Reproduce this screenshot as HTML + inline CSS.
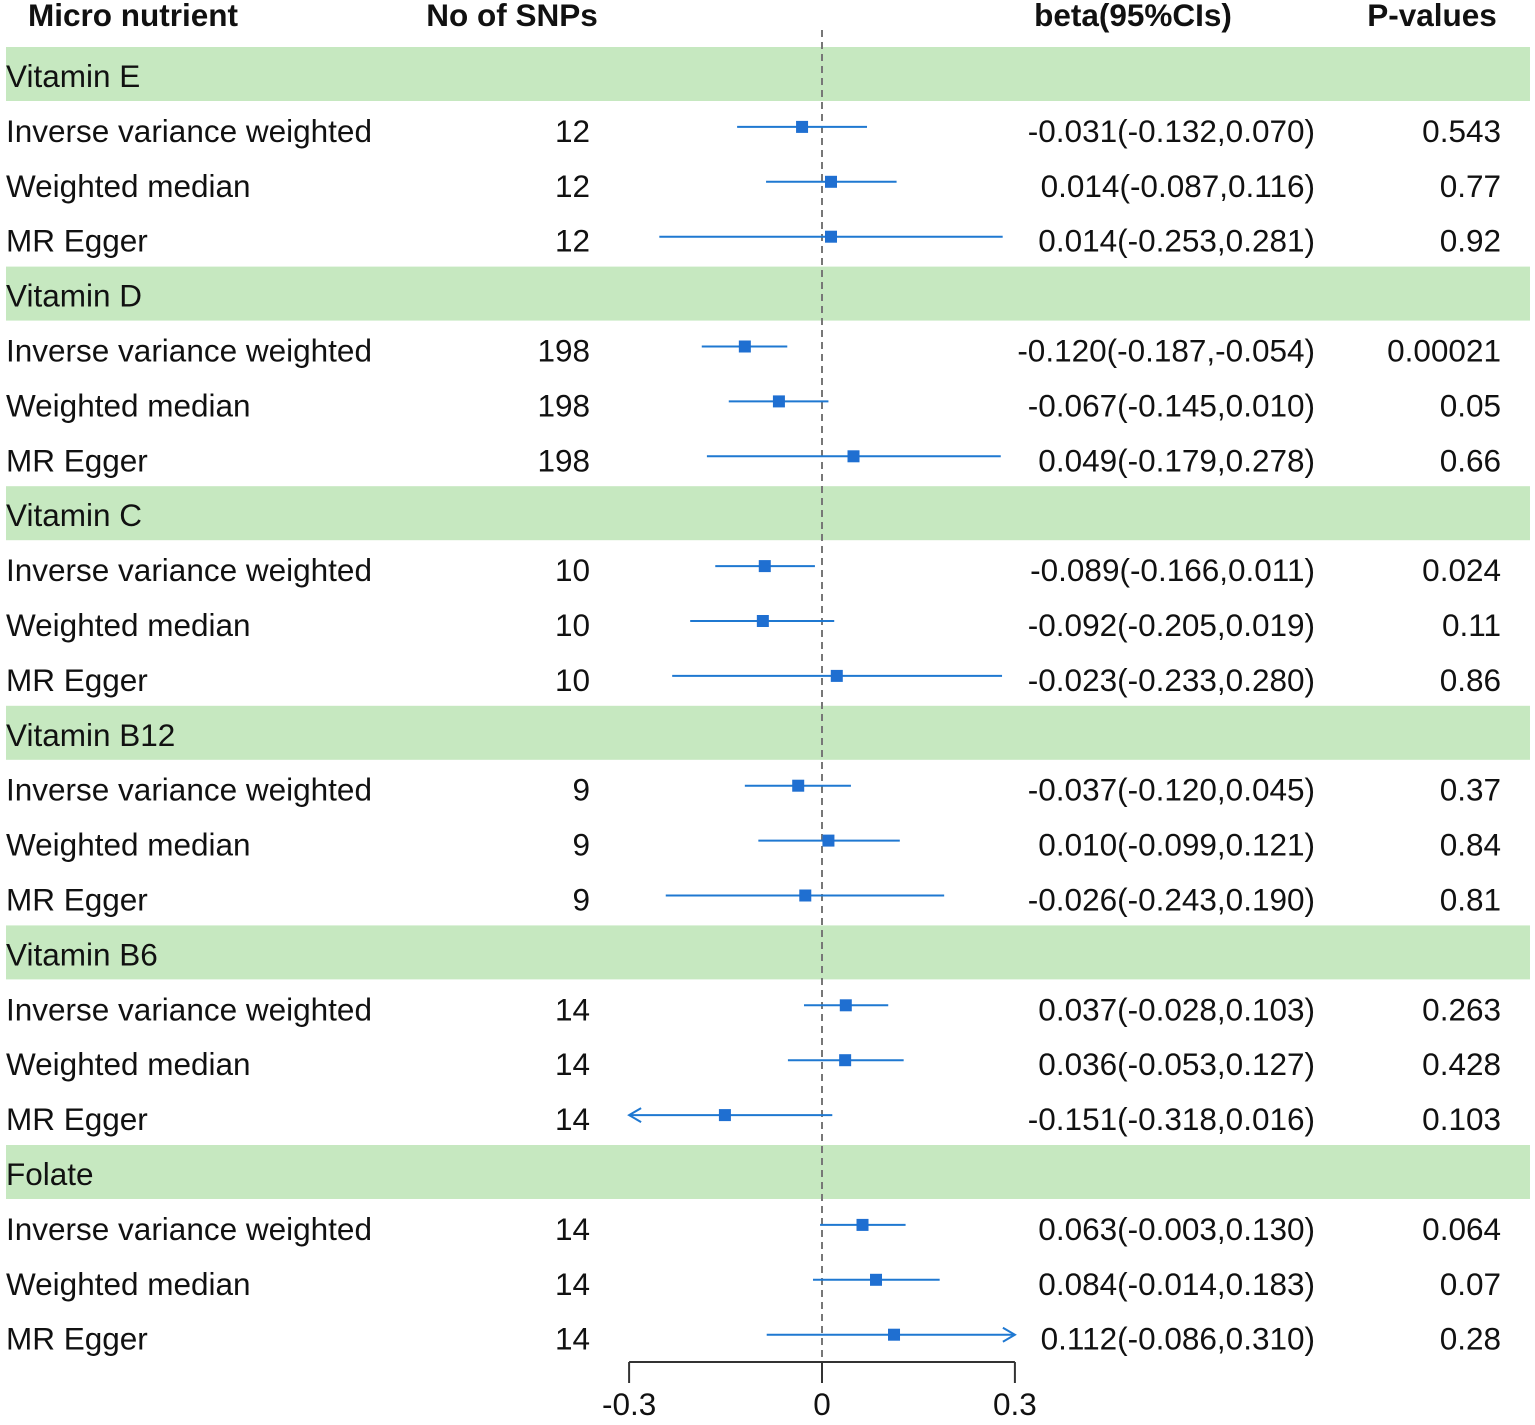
<!DOCTYPE html>
<html><head><meta charset="utf-8"><style>
body{margin:0;background:#fff;}
svg text{font-family:"Liberation Sans",Arial,sans-serif;font-size:31.5px;fill:#111;}
</style></head><body>
<svg id="c" width="1535" height="1420"></svg>
<script>
const groups=["Vitamin E","Vitamin D","Vitamin C","Vitamin B12","Vitamin B6","Folate"];
const methods=["Inverse variance weighted","Weighted median","MR Egger"];
const nsnps=[12,12,12,198,198,198,10,10,10,9,9,9,14,14,14,14,14,14];
const betas=[-0.031,0.014,0.014,-0.120,-0.067,0.049,-0.089,-0.092,0.023,-0.037,0.010,-0.026,0.037,0.036,-0.151,0.063,0.084,0.112];
const lows=[-0.132,-0.087,-0.253,-0.187,-0.145,-0.179,-0.166,-0.205,-0.233,-0.120,-0.099,-0.243,-0.028,-0.053,-0.318,-0.003,-0.014,-0.086];
const highs=[0.070,0.116,0.281,-0.054,0.010,0.278,-0.011,0.019,0.280,0.045,0.121,0.190,0.103,0.127,0.016,0.130,0.183,0.310];
const betaLabels=["-0.031(-0.132,0.070)","0.014(-0.087,0.116)","0.014(-0.253,0.281)","-0.120(-0.187,-0.054)","-0.067(-0.145,0.010)","0.049(-0.179,0.278)","-0.089(-0.166,0.011)","-0.092(-0.205,0.019)","-0.023(-0.233,0.280)","-0.037(-0.120,0.045)","0.010(-0.099,0.121)","-0.026(-0.243,0.190)","0.037(-0.028,0.103)","0.036(-0.053,0.127)","-0.151(-0.318,0.016)","0.063(-0.003,0.130)","0.084(-0.014,0.183)","0.112(-0.086,0.310)"];
const pvals=["0.543","0.77","0.92","0.00021","0.05","0.66","0.024","0.11","0.86","0.37","0.84","0.81","0.263","0.428","0.103","0.064","0.07","0.28"];
const ticks=[-0.3,0,0.3];
const xmin=-0.3,xmax=0.3;

const svg=document.getElementById('c');
const NS='http://www.w3.org/2000/svg';
const X=v=>822+v*643;
const rowY=i=>74+i*54.9;
function el(t,a,p){const e=document.createElementNS(NS,t);for(const k in a)e.setAttribute(k,a[k]);(p||svg).appendChild(e);return e;}
function txt(s,x,y,anchor,bold,name){const t=el('text',{x:x,y:y+2,'text-anchor':anchor,'dominant-baseline':'central'});if(bold){t.setAttribute('font-weight','bold');t.setAttribute('font-size','30');}t.textContent=s;


return t;}

txt("Micro nutrient",28,13,'start',true,'header-micro-nutrient');
txt("No of SNPs",512,13,'middle',true,'header-no-of-snps');
txt("beta(95%CIs)",1133,13,'middle',true,'header-beta');
txt("P-values",1432,13,'middle',true,'header-p-values');

let r=0;
groups.forEach((g,gi)=>{
  const y=rowY(r);
  const b=el('rect',{x:6,y:y-27,width:1524,height:54,fill:'#c6e8c0'});
  
  
  txt(g,6,y,'start',false,'group-label');
  r++;
  methods.forEach((m,mi)=>{
    const k=gi*3+mi,yy=rowY(r);
    txt(m,6,yy,'start',false,'method-label');
    txt(String(nsnps[k]),590,yy,'end',false,'snp-count');
    txt(betaLabels[k],1315,yy,'end',false,'beta-ci-text');
    txt(pvals[k],1501,yy,'end',false,'p-value');
    r++;
  });
});

const dl=el('line',{x1:X(0),x2:X(0),y1:30,y2:1362,stroke:'#777','stroke-width':2,'stroke-dasharray':'7,5'});



r=0;
groups.forEach((g,gi)=>{
  r++;
  methods.forEach((m,mi)=>{
    const k=gi*3+mi,yy=rowY(r)-2;
    const lo=Math.max(lows[k],xmin),hi=Math.min(highs[k],xmax);
    const l=el('line',{x1:X(lo),x2:X(hi),y1:yy,y2:yy,stroke:'#1f78d1','stroke-width':2});
    
    
    if(lows[k]<xmin){const a=el('polyline',{points:`${X(xmin)+12},${yy-7} ${X(xmin)},${yy} ${X(xmin)+12},${yy+7}`,fill:'none',stroke:'#1f78d1','stroke-width':2});
      
      }
    if(highs[k]>xmax){const a=el('polyline',{points:`${X(xmax)-12},${yy-7} ${X(xmax)},${yy} ${X(xmax)-12},${yy+7}`,fill:'none',stroke:'#1f78d1','stroke-width':2});
      
      }
    const s=el('rect',{x:X(betas[k])-6,y:yy-6,width:12,height:12,fill:'#1f6fd1'});
    
    
    r++;
  });
});

const ax=el('line',{x1:X(xmin),x2:X(xmax),y1:1362,y2:1362,stroke:'#333','stroke-width':2});


ticks.forEach(t=>{
  const tl=el('line',{x1:X(t),x2:X(t),y1:1362,y2:1383,stroke:'#333','stroke-width':2});
  
  
  txt(String(t),X(t),1402,'middle',false,'x-tick-label');
});
</script>
</body></html>
